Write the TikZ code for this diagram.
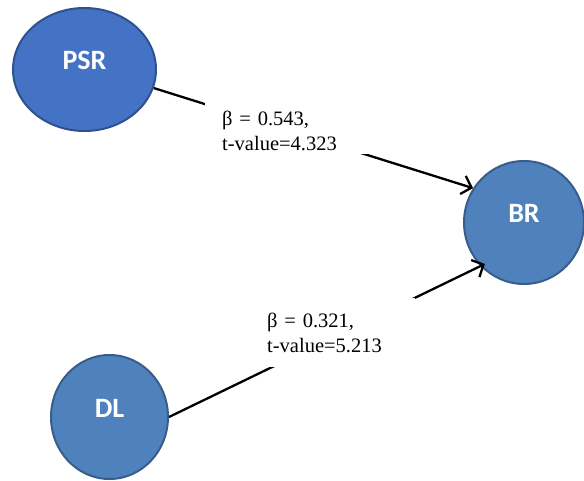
\documentclass[tikz,border=0pt]{standalone}
\usepackage{fontspec}
\setmainfont{Liberation Serif}
\newfontfamily\circfont{Carlito}
\usetikzlibrary{shapes.geometric,arrows.meta}
\definecolor{psrfill}{HTML}{4472C4}
\definecolor{psrline}{HTML}{2F528F}
\definecolor{nodefill}{HTML}{4F81BD}
\definecolor{nodeline}{HTML}{385D8A}
\begin{document}
\begin{tikzpicture}[x=1pt,y=-1pt,
  construct/.style={ellipse, draw=nodeline, fill=nodefill, line width=2pt,
    inner sep=0pt, text=white,
    font=\circfont\bfseries\fontsize{28}{30}\selectfont, text depth=18pt},
  relation/.style={line width=2.3pt, draw=black,
    -{Straight Barb[length=9pt,width=19pt]}},
  coef/.style={fill=white, inner ysep=0pt, align=left, anchor=north west,
    font=\fontsize{20.5}{25}\selectfont}
]
\useasboundingbox (0,0) rectangle (584,481);
\node[construct, fill=psrfill, draw=psrline, minimum width=143pt, minimum height=123pt] (psr) at (84.5,69.5) {PSR};
\node[construct, minimum width=120pt, minimum height=123pt] (br) at (524,222.5) {BR};
\node[construct, minimum width=117pt, minimum height=124pt] (dl) at (109.5,417) {DL};
\draw[relation] (psr.-15) -- (br.146);
\draw[relation, shorten >=-5pt] (dl.0) -- (br.225);
\node[coef, inner xsep=17pt, text width=131pt] (c1) at (205,96)
  {\rule{0pt}{29pt}β = 0.543,\\t-value=4.323\rule[-4pt]{0pt}{4pt}};
\node[coef, inner xsep=12pt, text width=136pt] (c2) at (255,298)
  {\rule{0pt}{29pt}β = 0.321,\\t-value=5.213\rule[-15pt]{0pt}{15pt}};
\end{tikzpicture}
\end{document}
